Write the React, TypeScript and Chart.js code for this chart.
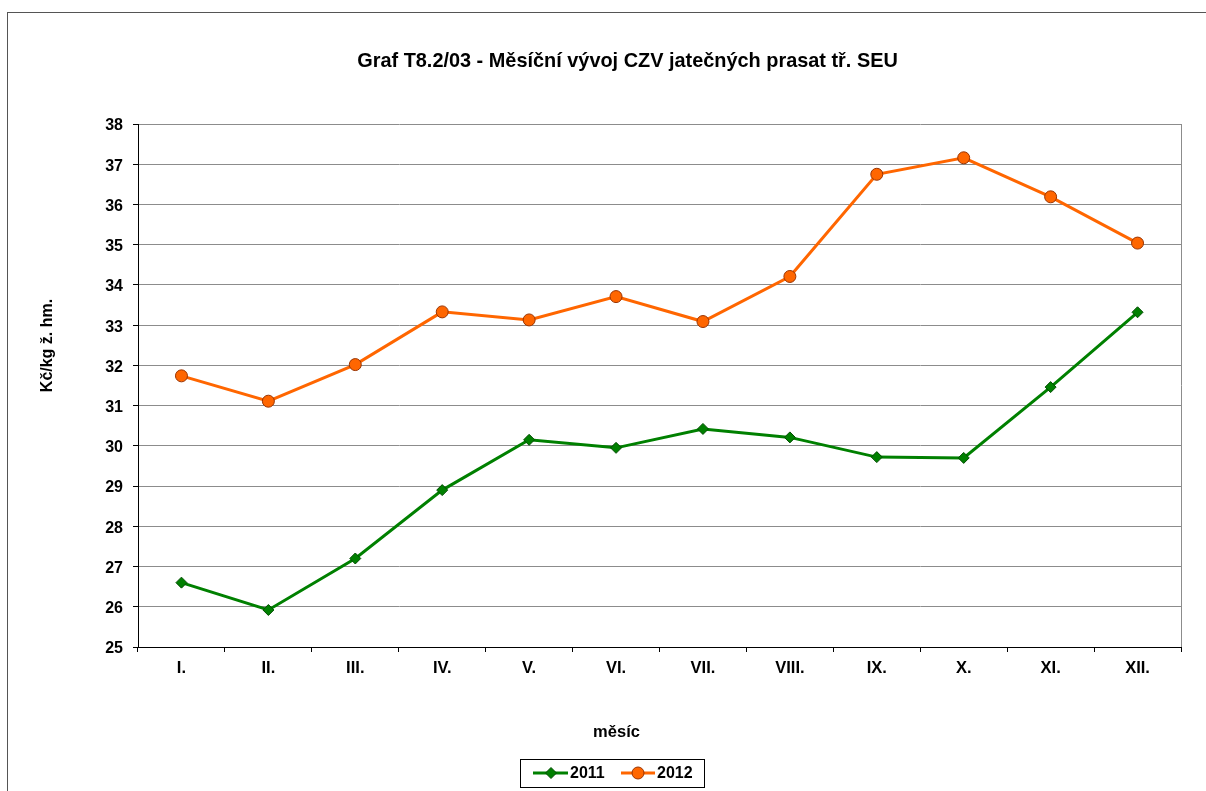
import React, { useEffect, useRef } from "react";
import { Chart, registerables } from "chart.js";

Chart.register(...registerables);

const months = ["I.", "II.", "III.", "IV.", "V.", "VI.", "VII.", "VIII.", "IX.", "X.", "XI.", "XII."];
const values2011 = [26.6, 25.92, 27.2, 28.9, 30.15, 29.95, 30.42, 30.21, 29.72, 29.7, 31.46, 33.32];
const values2012 = [31.74, 31.11, 32.02, 33.33, 33.13, 33.71, 33.09, 34.21, 36.75, 37.16, 36.19, 35.04];
const seriesNames = ["2011", "2012"];
const titleText = "Graf T8.2/03 - Měsíční vývoj CZV jatečných prasat tř. SEU";
const yTitle = "Kč/kg ž. hm.";
const xTitle = "měsíc";

const FONT = "'Liberation Sans', Arial, Helvetica, sans-serif";
const GREEN = "#008000";
const GREEN_DARK = "#004d00";
const ORANGE = "#FF6600";
const ORANGE_DARK = "#993300";

const framePlugin = {
  id: "framePlugin",
  beforeDatasetsDraw(chart: any) {
    const { ctx, chartArea } = chart;
    ctx.save();
    ctx.strokeStyle = "#8c8c8c";
    ctx.lineWidth = 1;
    ctx.beginPath();
    ctx.moveTo(Math.round(chartArea.right) + 0.5, chartArea.top);
    ctx.lineTo(Math.round(chartArea.right) + 0.5, chartArea.bottom);
    ctx.stroke();
    ctx.restore();
  },
  afterDraw(chart: any) {
    const { ctx } = chart;
    ctx.save();
    ctx.fillStyle = "#000";
    ctx.textAlign = "center";
    ctx.textBaseline = "middle";
    // chart title
    ctx.font = `bold 19.9px ${FONT}`;
    ctx.fillText(titleText, 627.5, 62);
    // x axis title
    ctx.font = `bold 16.5px ${FONT}`;
    ctx.fillText(xTitle, 616.5, 732);
    // y axis title
    ctx.save();
    ctx.translate(47.5, 345.5);
    ctx.rotate(-Math.PI / 2);
    ctx.font = `bold 16px ${FONT}`;
    ctx.fillText(yTitle, 0, 0);
    ctx.restore();

    // legend box
    ctx.strokeStyle = "#000";
    ctx.lineWidth = 1;
    ctx.strokeRect(520.5, 759.5, 184, 28);
    const cy = 773;
    // 2011
    ctx.strokeStyle = GREEN;
    ctx.lineWidth = 3;
    ctx.beginPath();
    ctx.moveTo(533, cy);
    ctx.lineTo(568, cy);
    ctx.stroke();
    ctx.fillStyle = GREEN;
    ctx.strokeStyle = GREEN_DARK;
    ctx.lineWidth = 1;
    ctx.beginPath();
    ctx.moveTo(551, cy - 5.5);
    ctx.lineTo(556.5, cy);
    ctx.lineTo(551, cy + 5.5);
    ctx.lineTo(545.5, cy);
    ctx.closePath();
    ctx.fill();
    ctx.stroke();
    // 2012
    ctx.strokeStyle = ORANGE;
    ctx.lineWidth = 3;
    ctx.beginPath();
    ctx.moveTo(621, cy);
    ctx.lineTo(655, cy);
    ctx.stroke();
    ctx.fillStyle = ORANGE;
    ctx.strokeStyle = ORANGE_DARK;
    ctx.lineWidth = 1;
    ctx.beginPath();
    ctx.arc(638, cy, 6, 0, Math.PI * 2);
    ctx.fill();
    ctx.stroke();
    // texts
    ctx.fillStyle = "#000";
    ctx.font = `bold 16px ${FONT}`;
    ctx.textBaseline = "middle";
    ctx.textAlign = "left";
    ctx.fillText(seriesNames[0], 570, cy + 1);
    ctx.fillText(seriesNames[1], 657, cy + 1);
    ctx.restore();
  },
};

export default function App() {
  const ref = useRef<HTMLCanvasElement>(null);
  useEffect(() => {
    if (!ref.current) return;
    const chart = new Chart(ref.current, {
      type: "line",
      data: {
        labels: months,
        datasets: [
          {
            label: seriesNames[0],
            data: values2011,
            borderColor: GREEN,
            backgroundColor: GREEN,
            borderWidth: 3,
            pointStyle: "rectRot",
            pointRadius: 5.5,
            pointBackgroundColor: GREEN,
            pointBorderColor: GREEN_DARK,
            pointBorderWidth: 1,
            tension: 0,
          },
          {
            label: seriesNames[1],
            data: values2012,
            borderColor: ORANGE,
            backgroundColor: ORANGE,
            borderWidth: 3,
            pointStyle: "circle",
            pointRadius: 6,
            pointBackgroundColor: ORANGE,
            pointBorderColor: ORANGE_DARK,
            pointBorderWidth: 1,
            tension: 0,
          },
        ],
      },
      options: {
        animation: false,
        responsive: false,
        maintainAspectRatio: false,
        layout: { padding: { left: 0, right: 25, top: 124, bottom: 44 } },
        plugins: {
          legend: { display: false },
          tooltip: { enabled: false },
          title: { display: false },
        },
        scales: {
          x: {
            type: "category",
            offset: true,
            grid: {
              display: true,
              offset: true,
              drawOnChartArea: false,
              drawTicks: true,
              tickLength: 5,
              tickColor: "#000",
              color: "#000",
            },
            border: { display: true, color: "#000", width: 1 },
            ticks: {
              color: "#000",
              font: { family: FONT, size: 16.5, weight: "bold" },
              padding: 7,
              maxRotation: 0,
              autoSkip: false,
            },
            title: { display: false },
            afterFit(scale: any) {
              scale.height = 100;
            },
          },
          y: {
            min: 25,
            max: 38,
            ticks: {
              stepSize: 1,
              color: "#000",
              font: { family: FONT, size: 16, weight: "bold" },
              padding: 10,
              labelOffset: 2,
            },
            grid: {
              color: "#8c8c8c",
              lineWidth: 1,
              drawTicks: true,
              tickLength: 5,
              tickColor: "#000",
            },
            border: { display: true, color: "#000", width: 1 },
            title: { display: false },
            afterFit(scale: any) {
              scale.width = 138;
            },
          },
        },
      },
      plugins: [framePlugin],
    });
    return () => chart.destroy();
  }, []);

  return (
    <div style={{ position: "absolute", left: 0, top: 0, width: 1206, height: 791, overflow: "hidden", background: "#fff" }}>
      <div
        style={{
          position: "absolute",
          left: 7,
          top: 12,
          width: 1300,
          height: 900,
          border: "1px solid #555",
          boxSizing: "border-box",
        }}
      />
      <canvas ref={ref} width={1206} height={791} style={{ position: "absolute", left: 0, top: 0, width: 1206, height: 791 }} />
    </div>
  );
}
